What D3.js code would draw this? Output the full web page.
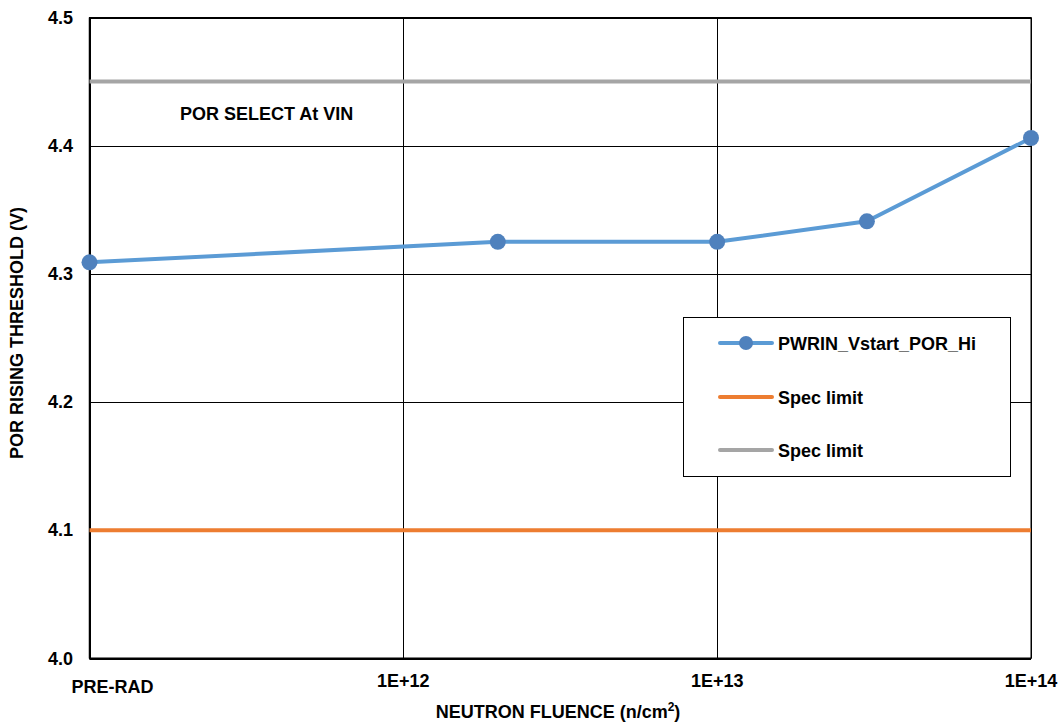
<!DOCTYPE html>
<html><head><meta charset="utf-8">
<script src="https://cdn.jsdelivr.net/npm/d3@7"></script>
<style>body{margin:0;background:#fff}svg text{font-family:"Liberation Sans",Arial,sans-serif;font-weight:bold;fill:#000}</style>
</head><body><svg id="c" width="1060" height="724"></svg>
<script>
const fluence = [1e11, 2e12, 1e13, 3e13, 1e14];
const threshold = [4.309, 4.325, 4.325, 4.341, 4.406];
const specLow = 4.1, specHigh = 4.45;
const xTicks = [1e11, 1e12, 1e13, 1e14];
const xTickLabels = ["PRE-RAD", "1E+12", "1E+13", "1E+14"];
const yTicks = [4.0, 4.1, 4.2, 4.3, 4.4, 4.5];
const seriesNames = ["PWRIN_Vstart_POR_Hi", "Spec limit", "Spec limit"];

const svg = d3.select("#c");
const L = 89.5, R = 1031, T = 17.5, B = 658.5;
const x = d3.scaleLog().domain([1e11, 1e14]).range([L, R]);
const y = d3.scaleLinear().domain([4.0, 4.5]).range([B, T]);
const FS = 18;

// grid
svg.append("g").selectAll("line").data(yTicks).join("line")
  .attr("x1", L).attr("x2", R).attr("y1", d => Math.round(y(d)) + 0.5).attr("y2", d => Math.round(y(d)) + 0.5)
  .attr("stroke", "#000").attr("stroke-width", 1);
svg.append("g").selectAll("line").data(xTicks).join("line")
  .attr("y1", T).attr("y2", B).attr("x1", d => Math.round(x(d)) + 0.5).attr("x2", d => Math.round(x(d)) + 0.5)
  .attr("stroke", "#000").attr("stroke-width", 1);
// frame
svg.append("rect").attr("x", L).attr("y", T).attr("width", R - L).attr("height", B - T)
  .attr("fill", "none").attr("stroke", "#000").attr("stroke-width", 1);
svg.append("line").attr("x1", L).attr("x2", R).attr("y1", B).attr("y2", B).attr("stroke", "#000").attr("stroke-width", 2);
svg.append("line").attr("x1", L).attr("x2", L).attr("y1", T).attr("y2", B).attr("stroke", "#000").attr("stroke-width", 1.5);

// spec lines
svg.append("line").attr("x1", L).attr("x2", R).attr("y1", y(specLow)).attr("y2", y(specLow))
  .attr("stroke", "#ED7D31").attr("stroke-width", 4);
svg.append("line").attr("x1", L).attr("x2", R).attr("y1", y(specHigh)).attr("y2", y(specHigh))
  .attr("stroke", "#A5A5A5").attr("stroke-width", 4);

// series
const pts = fluence.map((f, i) => [f, threshold[i]]);
svg.append("path").datum(pts)
  .attr("d", d3.line().x(d => x(d[0])).y(d => y(d[1])))
  .attr("fill", "none").attr("stroke", "#5B9BD5").attr("stroke-width", 4).attr("stroke-linejoin", "round");
svg.append("g").selectAll("circle").data(pts).join("circle")
  .attr("cx", d => x(d[0])).attr("cy", d => y(d[1])).attr("r", 8).attr("fill", "#4F81BD");

// y tick labels
svg.append("g").selectAll("text").data(yTicks).join("text")
  .attr("x", 73).attr("y", d => y(d) + 6).attr("text-anchor", "end").attr("font-size", FS)
  .text(d => d.toFixed(1));
// x tick labels
svg.append("g").selectAll("text").data(xTicks).join("text")
  .attr("x", (d, i) => i === 0 ? 112.5 : x(d)).attr("y", (d, i) => i === 0 ? 693 : 687)
  .attr("text-anchor", "middle").attr("font-size", FS)
  .text((d, i) => xTickLabels[i]);

// axis titles
const xt = svg.append("text").attr("x", 558).attr("y", 718).attr("text-anchor", "middle").attr("font-size", FS);
xt.append("tspan").text("NEUTRON FLUENCE (n/cm");
xt.append("tspan").attr("font-size", 12).attr("dy", -7).text("2");
xt.append("tspan").attr("dy", 7).text(")");
svg.append("text").attr("transform", "translate(23,333) rotate(-90)").attr("text-anchor", "middle")
  .attr("font-size", FS).text("POR RISING THRESHOLD (V)");

// annotation
svg.append("text").attr("x", 180).attr("y", 120).attr("font-size", FS).text("POR SELECT At VIN");

// legend
const lg = svg.append("g");
lg.append("rect").attr("x", 683.5).attr("y", 317.5).attr("width", 327).attr("height", 159)
  .attr("fill", "#fff").attr("stroke", "#000").attr("stroke-width", 1);
const legColors = ["#5B9BD5", "#ED7D31", "#A5A5A5"];
const legY = [343, 397, 450];
seriesNames.forEach((n, i) => {
  lg.append("line").attr("x1", 720).attr("x2", 772).attr("y1", legY[i]).attr("y2", legY[i])
    .attr("stroke", legColors[i]).attr("stroke-width", 4).attr("stroke-linecap", "round");
  if (i === 0) lg.append("circle").attr("cx", 746).attr("cy", legY[i]).attr("r", 7).attr("fill", "#4F81BD");
  lg.append("text").attr("x", 778).attr("y", legY[i] + 7).attr("font-size", FS).text(n);
});
</script></body></html>
